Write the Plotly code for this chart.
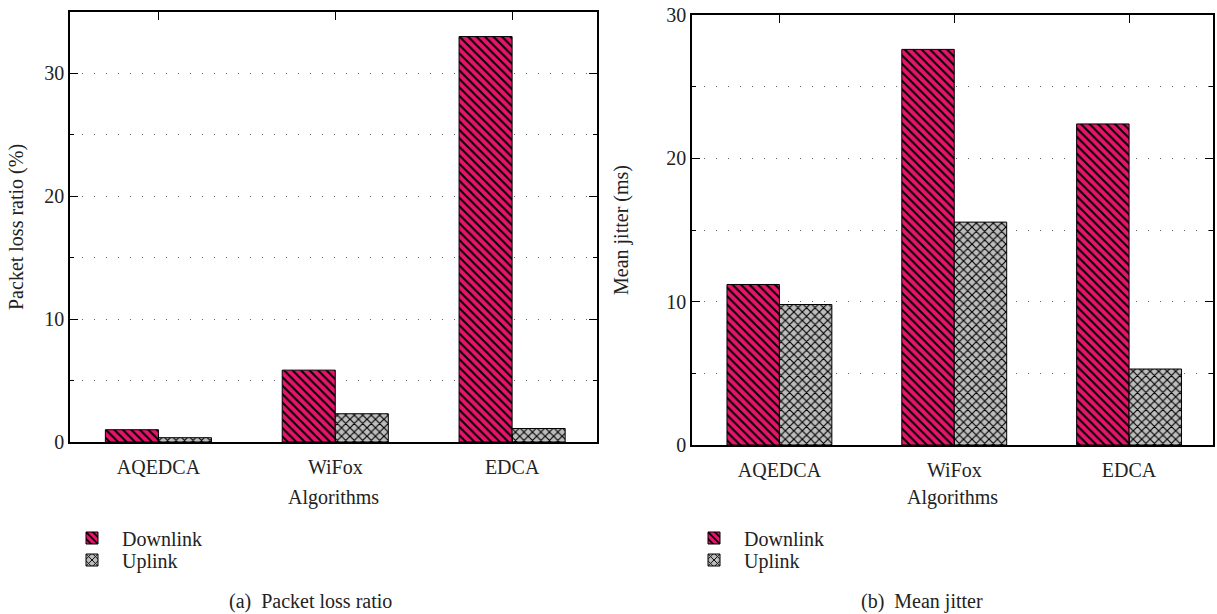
import plotly.graph_objects as go

categories = ["AQEDCA", "WiFox", "EDCA"]
loss_downlink = [1.0, 5.85, 33.0]
loss_uplink = [0.35, 2.3, 1.1]
jitter_downlink = [11.2, 27.6, 22.4]
jitter_uplink = [9.8, 15.55, 5.3]
series_names = ["Downlink", "Uplink"]
y_ticks = [0, 10, 20, 30]

W, H = 1217, 614
FONT = "Liberation Serif, Times New Roman, serif"
FS = 20
PINK = "#E8146C"
GRAY = "#BDBDBD"


def px_x(v):
    return v / W


def px_y(v):
    return 1 - v / H


down_style = dict(color=PINK, line=dict(color="black", width=1),
                  pattern=dict(shape="\\", fgcolor="black", bgcolor=PINK, fillmode="replace",
                               size=6, solidity=0.35))
up_style = dict(color=GRAY, line=dict(color="black", width=1),
                pattern=dict(shape="x", fgcolor="black", bgcolor=GRAY, fillmode="replace",
                             size=6, solidity=0.35))

fig = go.Figure()
fig.add_trace(go.Bar(x=categories, y=loss_downlink, name=series_names[0], marker=down_style,
                     xaxis="x", yaxis="y", legend="legend"))
fig.add_trace(go.Bar(x=categories, y=loss_uplink, name=series_names[1], marker=up_style,
                     xaxis="x", yaxis="y", legend="legend2"))
fig.add_trace(go.Bar(x=categories, y=jitter_downlink, name=series_names[0], marker=down_style,
                     xaxis="x2", yaxis="y2", legend="legend3"))
fig.add_trace(go.Bar(x=categories, y=jitter_uplink, name=series_names[1], marker=up_style,
                     xaxis="x2", yaxis="y2", legend="legend4"))

xcommon = dict(showline=True, linecolor="black", linewidth=1.5, mirror="ticks", ticks="inside",
               ticklen=8, tickcolor="black", range=[-0.5, 2.48], showgrid=False,
               automargin=False, ticklabelstandoff=6,
               tickfont=dict(family=FONT, size=FS, color="#222"))
ycommon = dict(showline=True, linecolor="black", linewidth=1.5, mirror="ticks", ticks="inside",
               ticklen=8, tickcolor="black", tickvals=y_ticks, showgrid=True, gridcolor="#666",
               griddash="1px,11px", gridwidth=1, zeroline=False, automargin=False,
               minor=dict(dtick=5, showgrid=True, gridcolor="#666", griddash="1px,11px",
                          ticks="inside", ticklen=4, tickcolor="black"),
               tickfont=dict(family=FONT, size=FS, color="#222"))

leg = dict(xanchor="left", yanchor="middle", font=dict(family=FONT, size=FS, color="#222"),
           bgcolor="rgba(0,0,0,0)", borderwidth=0, itemwidth=50)

fig.update_layout(
    template="none",
    width=W, height=H,
    margin=dict(l=0, r=0, t=0, b=0, autoexpand=False),
    paper_bgcolor="white", plot_bgcolor="white",
    barmode="group", bargap=0.4, bargroupgap=0,
    font=dict(family=FONT, size=FS, color="#222"),
    xaxis=dict(domain=[px_x(70), px_x(597)], anchor="y", **xcommon),
    yaxis=dict(domain=[px_y(442), px_y(12)], anchor="x", range=[0, 35], **ycommon),
    xaxis2=dict(domain=[px_x(692), px_x(1213)], anchor="y2", **xcommon),
    yaxis2=dict(domain=[px_y(445), px_y(15)], anchor="x2", range=[0, 30], **ycommon),
    legend=dict(x=px_x(62), y=px_y(538), **leg),
    legend2=dict(x=px_x(62), y=px_y(560), **leg),
    legend3=dict(x=px_x(684), y=px_y(538), **leg),
    legend4=dict(x=px_x(684), y=px_y(560), **leg),
    showlegend=True,
)

annotations = [
    dict(text="Packet loss ratio (%)", x=px_x(17), y=px_y(227), textangle=-90),
    dict(text="Mean jitter (ms)", x=px_x(622), y=px_y(230), textangle=-90),
    dict(text="Algorithms", x=px_x(333), y=px_y(497)),
    dict(text="Algorithms", x=px_x(952), y=px_y(497)),
    dict(text="(a)  Packet loss ratio", x=px_x(310), y=px_y(601)),
    dict(text="(b)  Mean jitter", x=px_x(922), y=px_y(601)),
]
for a in annotations:
    fig.add_annotation(xref="paper", yref="paper", showarrow=False, xanchor="center",
                       yanchor="middle", font=dict(family=FONT, size=FS, color="#222"), **a)

fig.write_html("out.html")
